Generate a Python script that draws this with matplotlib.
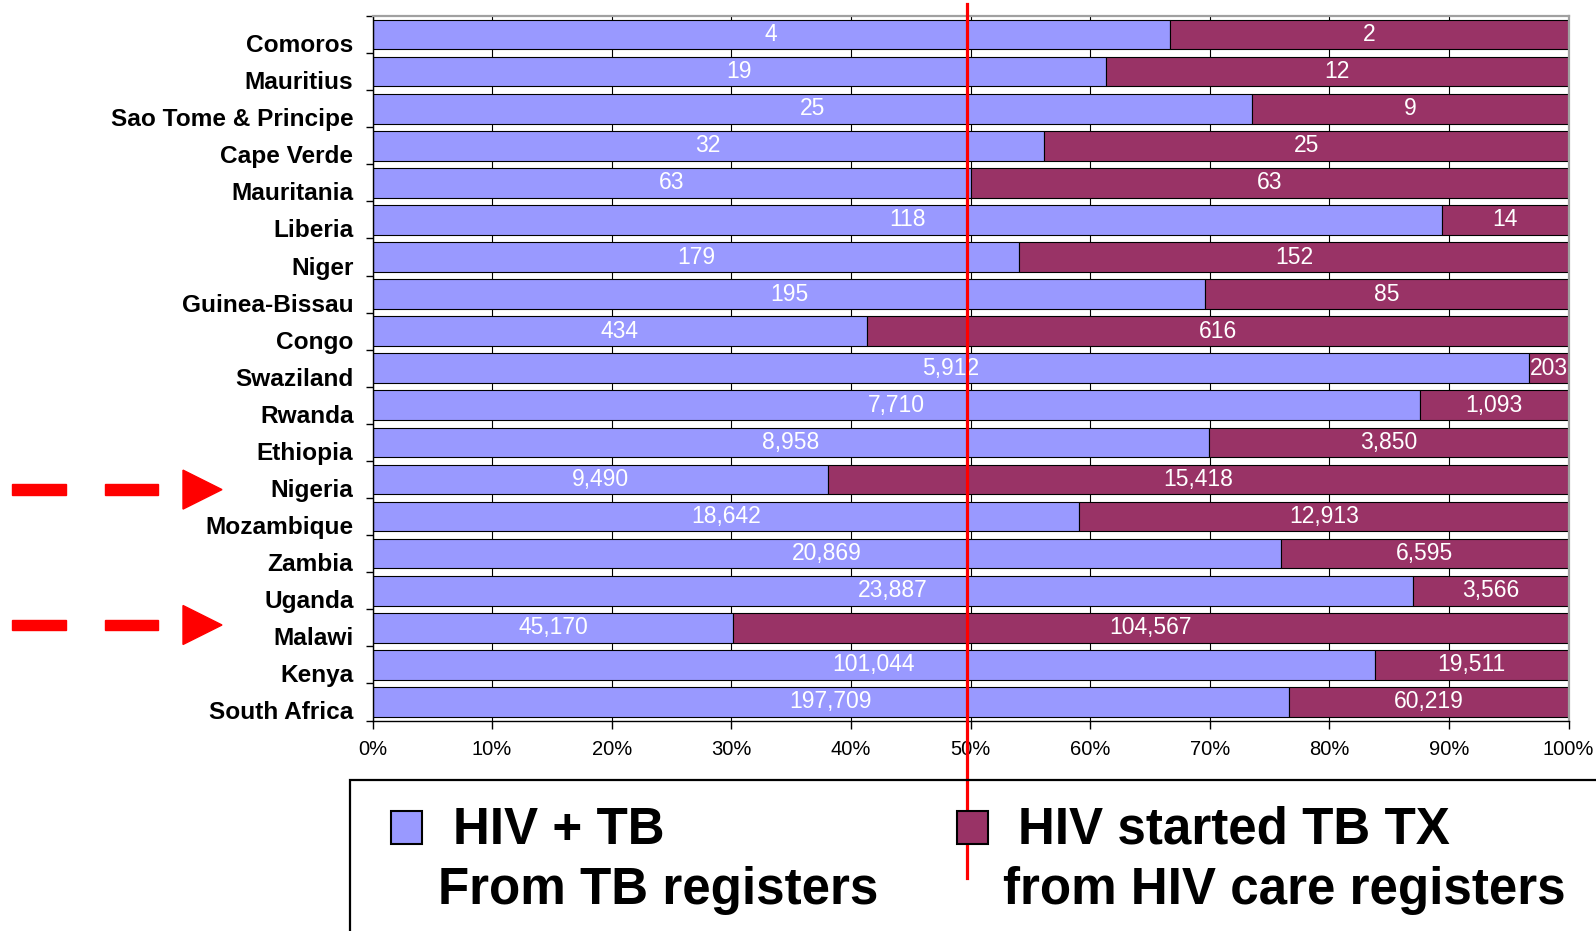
import numpy as np
import matplotlib
matplotlib.use("Agg")
import matplotlib.pyplot as plt
from matplotlib.patches import Rectangle, Polygon
from matplotlib.transforms import ScaledTranslation, blended_transform_factory

# data (top row first)
countries = ["Comoros", "Mauritius", "Sao Tome & Principe", "Cape Verde", "Mauritania",
             "Liberia", "Niger", "Guinea-Bissau", "Congo", "Swaziland", "Rwanda",
             "Ethiopia", "Nigeria", "Mozambique", "Zambia", "Uganda", "Malawi",
             "Kenya", "South Africa"]
hiv_tb = [4, 19, 25, 32, 63, 118, 179, 195, 434, 5912, 7710, 8958, 9490,
          18642, 20869, 23887, 45170, 101044, 197709]
hiv_started = [2, 12, 9, 25, 63, 14, 152, 85, 616, 203, 1093, 3850, 15418,
               12913, 6595, 3566, 104567, 19511, 60219]
x_ticks = [0, 10, 20, 30, 40, 50, 60, 70, 80, 90, 100]
legend_names = [["HIV + TB", "From TB registers"],
                ["HIV started TB TX", "from HIV care registers"]]
highlight = ["Nigeria", "Malawi"]

BLUE = "#9999FF"
MAROON = "#993366"
W, H = 1596, 931

def fx(p):
    return p / W

def fy(p):
    return 1 - p / H

plt.rcParams['font.family'] = ['Liberation Sans', 'DejaVu Sans']

fig = plt.figure(figsize=(W / 100, H / 100), dpi=100)
ax = fig.add_axes([fx(372.5), fy(720.5), (1568.5 - 372.5) / W, (720.5 - 16) / H])

a = np.array(hiv_tb, dtype=float)
b = np.array(hiv_started, dtype=float)
pa = a / (a + b) * 100
pb = b / (a + b) * 100
y = np.arange(len(countries))

ax.barh(y, pa, height=0.8, color=BLUE, edgecolor="black", linewidth=0.8, zorder=2)
ax.barh(y, pb, left=pa, height=0.8, color=MAROON, edgecolor="black", linewidth=0.8, zorder=2)

for i in range(len(countries)):
    ax.text(pa[i] / 2, y[i], f"{hiv_tb[i]:,}", ha="center", va="center",
            color="white", fontsize=16.5, zorder=3)
    ax.text(pa[i] + pb[i] / 2, y[i], f"{hiv_started[i]:,}", ha="center", va="center",
            color="white", fontsize=16.5, zorder=3)

ax.set_xlim(0, 100)
ax.set_ylim(len(countries) - 0.5, -0.5)
ax.set_xticks(x_ticks)
ax.set_xticklabels([f"{t}%" for t in x_ticks], fontsize=14.5)
ax.tick_params(axis="x", length=6, width=1, pad=8)
ax.set_yticks([])
ax.set_yticks(np.arange(len(countries) + 1) - 0.5, minor=True)
ax.tick_params(axis="y", which="minor", length=5, width=1)
ax.grid(axis="x", color="black", linewidth=0.8)
ax.set_axisbelow(True)
for s in ["left", "bottom"]:
    ax.spines[s].set_color("black")
    ax.spines[s].set_linewidth(1)
for s in ["top", "right"]:
    ax.spines[s].set_color("#A0A0A0")
    ax.spines[s].set_linewidth(1.6)

# country names sit a little below the bar centres
lab_tr = blended_transform_factory(ax.transAxes, ax.transData) + \
    ScaledTranslation(0, -11 / 100, fig.dpi_scale_trans)
for i, c in enumerate(countries):
    ax.text(-19 / 1196, y[i], c, transform=lab_tr, ha="right", va="center",
            fontsize=17.6, fontweight="bold")

# red reference line near 50%
ax.plot([49.7, 49.7], [1.017, -0.223], color="red", linewidth=2.3,
        transform=blended_transform_factory(ax.transData, ax.transAxes),
        clip_on=False, zorder=5)

# dashed arrows pointing at the highlighted countries
arrow_y = {"Nigeria": 489.6, "Malawi": 625.0}
for c in highlight:
    yc = arrow_y[c]
    for x0, x1 in [(12.2, 66.2), (104.8, 157.8)]:
        fig.patches.append(Rectangle((fx(x0), fy(yc + 5.3)), (x1 - x0) / W, 10.6 / H,
                                     transform=fig.transFigure, color="#FF0000"))
    fig.patches.append(Polygon([(fx(183), fy(yc - 19.5)), (fx(183), fy(yc + 19.5)),
                                (fx(222), fy(yc))], closed=True,
                               transform=fig.transFigure, color="#FF0000"))

# legend box
fig.patches.append(Rectangle((fx(350), -0.1), 1.0, fy(780) + 0.1, transform=fig.transFigure,
                             fill=False, edgecolor="black", linewidth=1.6))
for (sq_x, t1_x, t2_x), col, names in zip([(391, 453, 438), (957, 1018, 1003)],
                                          [BLUE, MAROON], legend_names):
    fig.patches.append(Rectangle((fx(sq_x), fy(844)), 31 / W, 33 / H,
                                 transform=fig.transFigure, facecolor=col,
                                 edgecolor="black", linewidth=1.5))
    fig.text(fx(t1_x), fy(830.5), names[0], ha="left", va="center",
             fontsize=36.8, fontweight="bold")
    fig.text(fx(t2_x), fy(890.5), names[1], ha="left", va="center",
             fontsize=36.8, fontweight="bold")

fig.savefig("out.png", dpi=100)
